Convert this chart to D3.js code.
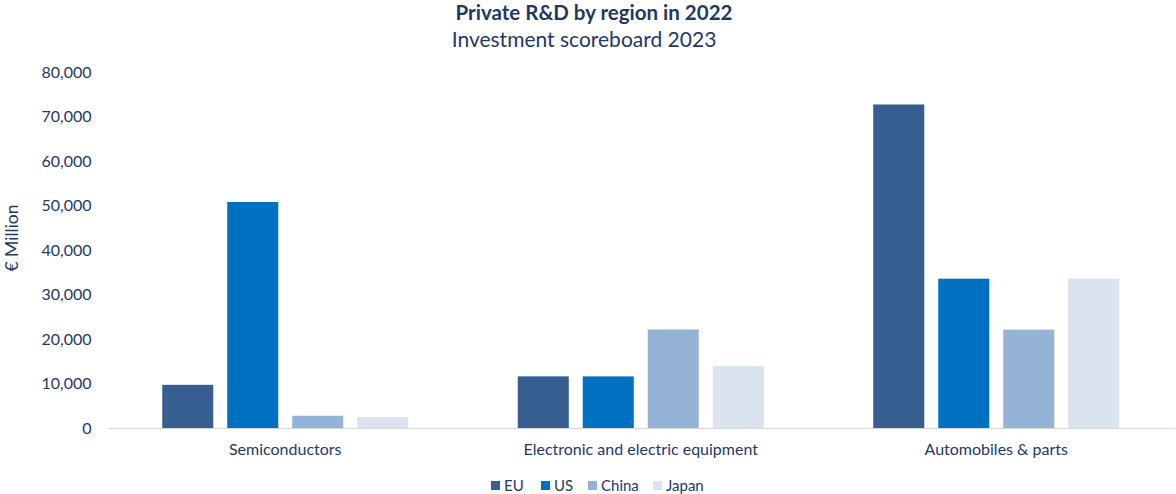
<!DOCTYPE html>
<html>
<head>
<meta charset="utf-8">
<script src="https://cdn.jsdelivr.net/npm/d3@7"></script>
<style>
  body { margin: 0; background: #fff; }
  text { font-family: Lato, "Open Sans", sans-serif; fill: #1f3864; }
</style>
</head>
<body>
<svg id="chart" width="1176" height="494"></svg>
<script>
// data
var categories = ["Semiconductors", "Electronic and electric equipment", "Automobiles & parts"];
var regions = ["EU", "US", "China", "Japan"];
var euValues = [9700, 11600, 72700];
var usValues = [50800, 11600, 33550];
var chinaValues = [2750, 22150, 22100];
var japanValues = [2450, 13950, 33550];
var yTicks = [0, 10000, 20000, 30000, 40000, 50000, 60000, 70000, 80000];

var colors = ["#365e91", "#0070c0", "#95b3d7", "#dce3f0"];

var seriesValues = [euValues, usValues, chinaValues, japanValues];
var data = categories.map(function (c, i) {
    return { category: c, values: regions.map(function (r, j) { return { region: r, value: seriesValues[j][i] }; }) };
});

var svg = d3.select("#chart");
var margin = { top: 72, right: 2, bottom: 66, left: 107.5 };
var width = 1176 - margin.left - margin.right;
var height = 494 - margin.top - margin.bottom;

var g = svg.append("g").attr("transform", "translate(" + margin.left + "," + margin.top + ")");

var x0 = d3.scaleBand().domain(categories).range([0, width]).padding(0);
var x1 = d3.scaleBand().domain(regions)
    .range([x0.bandwidth() * 0.154, x0.bandwidth() * 0.846])
    .paddingInner(0.215);
var y = d3.scaleLinear().domain([0, 80000]).range([height, 0]);
var color = d3.scaleOrdinal().domain(regions).range(colors);

// y axis (labels only)
var yAxis = g.append("g")
    .call(d3.axisLeft(y).tickValues(yTicks).tickFormat(d3.format(",")).tickSize(0).tickPadding(16));
yAxis.select(".domain").remove();
yAxis.selectAll("text").style("font-size", "16px").attr("fill", "#1f3864");

// bars
var groups = g.selectAll(".group")
    .data(data).enter()
    .append("g")
    .attr("transform", function (d) { return "translate(" + x0(d.category) + ",0)"; });

groups.selectAll("rect")
    .data(function (d) { return d.values; }).enter()
    .append("rect")
    .attr("x", function (d) { return x1(d.region); })
    .attr("y", function (d) { return y(d.value); })
    .attr("width", x1.bandwidth())
    .attr("height", function (d) { return height - y(d.value); })
    .style("fill", function (d) { return color(d.region); });

// x axis
var xAxis = g.append("g")
    .attr("transform", "translate(0," + height + ")")
    .call(d3.axisBottom(x0).tickSize(0).tickPadding(16));
xAxis.select(".domain").attr("stroke", "#d9d9d9").attr("stroke-width", 1);
xAxis.selectAll("text").style("font-size", "16px").attr("fill", "#1f3864");

// titles
svg.append("text")
    .attr("x", 594).attr("y", 20)
    .attr("text-anchor", "middle")
    .style("font-size", "20.5px").style("font-weight", "bold")
    .text("Private R&D by region in 2022");
svg.append("text")
    .attr("x", 584).attr("y", 47)
    .attr("text-anchor", "middle")
    .style("font-size", "21px")
    .text("Investment scoreboard 2023");

// y axis title
svg.append("text")
    .attr("transform", "translate(18,238) rotate(-90)")
    .attr("text-anchor", "middle")
    .style("font-size", "17.5px")
    .text("€ Million");

// legend
var legendX = [491, 541, 588, 653];
var legend = svg.append("g").attr("transform", "translate(0,481)");
var items = legend.selectAll(".item")
    .data(regions).enter()
    .append("g")
    .attr("transform", function (d, i) { return "translate(" + legendX[i] + ",0)"; });
items.append("rect")
    .attr("width", 9).attr("height", 9)
    .style("fill", function (d) { return color(d); });
items.append("text")
    .attr("x", 13).attr("y", 9.5)
    .style("font-size", "15px")
    .text(function (d) { return d; });
</script>
</body>
</html>
